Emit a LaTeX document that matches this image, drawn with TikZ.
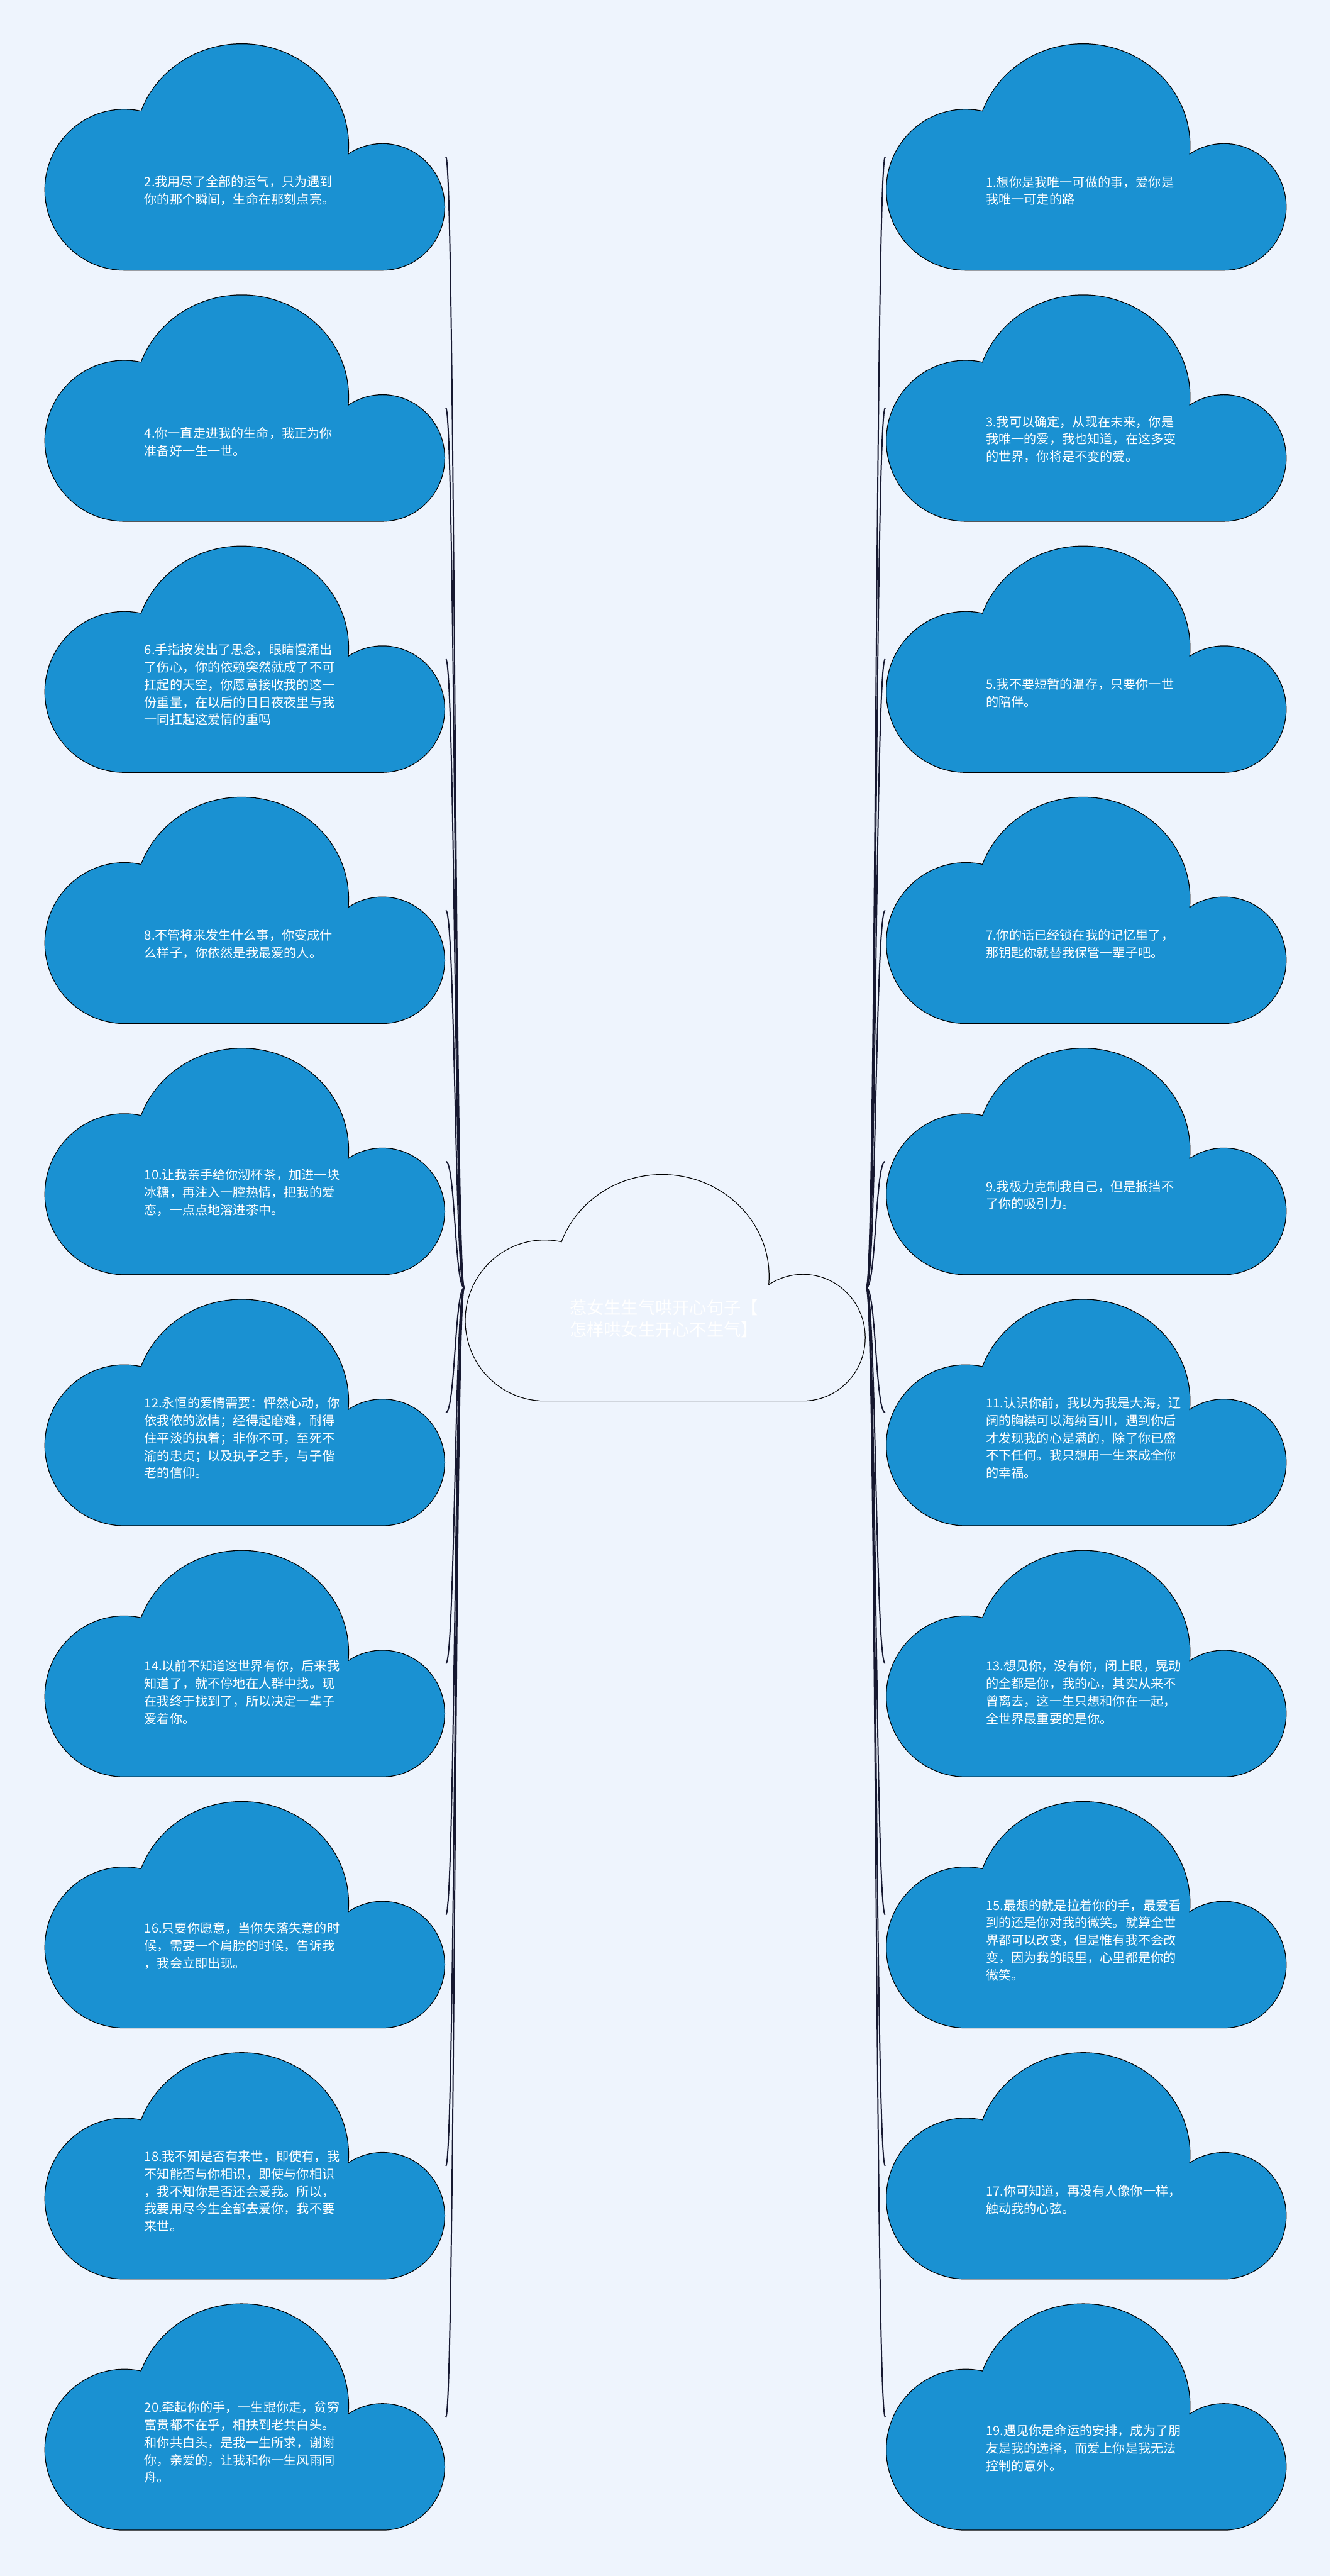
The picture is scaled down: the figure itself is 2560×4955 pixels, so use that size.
\documentclass[tikz,border=0pt]{standalone}
\usepackage{fontspec}
\newfontfamily\cjk{Noto Sans CJK SC}
\usepackage{tikz}
\definecolor{pagebg}{RGB}{238,244,253}
\definecolor{cloudblue}{RGB}{26,145,210}
\definecolor{linkdark}{RGB}{22,24,48}

\begin{document}
\begin{tikzpicture}[x=0.25pt,y=-0.25pt,node distance=120.75pt]
	\tikzset{
		cloudpath/.style={insert path={(-232,-63) ellipse [x radius=152,y radius=154]
			(-6,22) ellipse [x radius=205,y radius=195]
			(265,-96) ellipse [x radius=119,y radius=121]
			(265,-217) rectangle (-232,-19)}},
		cloud/.style={minimum width=193pt,minimum height=109.5pt,inner sep=0pt,
			path picture={\begin{scope}[x=0.25pt,y=0.25pt]
				\draw[line width=0.75pt,black,cloudpath];
				\fill[#1,cloudpath];
			\end{scope}}},
		note/.style={anchor=west,inner sep=0pt,align=left,text=white,
			font=\cjk\fontsize{6.1pt}{8.4pt}\selectfont},
		link/.style={draw=linkdark,line width=0.6pt,
			to path={.. controls +(#1,0) and +(-#1,0) .. (\tikztotarget)}}
	}
	\fill[pagebg] (0,0) rectangle (2560,4955);
	\useasboundingbox (0,0) rectangle (2560,4955);

	\node[cloud=pagebg] (hub) at (1280,2477) {};

	\node[cloud=cloudblue] (l2) at (471,302) {};
	\node[cloud=cloudblue] (l4) [below of=l2] {};
	\node[cloud=cloudblue] (l6) [below of=l4] {};
	\node[cloud=cloudblue] (l8) [below of=l6] {};
	\node[cloud=cloudblue] (l10) [below of=l8] {};
	\node[cloud=cloudblue] (l12) [below of=l10] {};
	\node[cloud=cloudblue] (l14) [below of=l12] {};
	\node[cloud=cloudblue] (l16) [below of=l14] {};
	\node[cloud=cloudblue] (l18) [below of=l16] {};
	\node[cloud=cloudblue] (l20) [below of=l18] {};

	\node[cloud=cloudblue] (r1) at (2090,302) {};
	\node[cloud=cloudblue] (r3) [below of=r1] {};
	\node[cloud=cloudblue] (r5) [below of=r3] {};
	\node[cloud=cloudblue] (r7) [below of=r5] {};
	\node[cloud=cloudblue] (r9) [below of=r7] {};
	\node[cloud=cloudblue] (r11) [below of=r9] {};
	\node[cloud=cloudblue] (r13) [below of=r11] {};
	\node[cloud=cloudblue] (r15) [below of=r13] {};
	\node[cloud=cloudblue] (r17) [below of=r15] {};
	\node[cloud=cloudblue] (r19) [below of=r17] {};

	% texts
	\node[note,font=\cjk\fontsize{8.25pt}{10.75pt}\selectfont] (t0) at ([shift={(202,59)}]hub.west)
		{惹女生生气哄开心句子【\\怎样哄女生开心不生气】};
	\node[note] (t2) at ([shift={(193,65)}]l2.west) {2.我用尽了全部的运气，只为遇到\\你的那个瞬间，生命在那刻点亮。};
	\node[note] (t4) at ([shift={(193,65)}]l4.west) {4.你一直走进我的生命，我正为你\\准备好一生一世。};
	\node[note] (t6) at ([shift={(193,49)}]l6.west) {6.手指按发出了思念，眼睛慢涌出\\了伤心，你的依赖突然就成了不可\\扛起的天空，你愿意接收我的这一\\份重量，在以后的日日夜夜里与我\\一同扛起这爱情的重吗};
	\node[note] (t8) at ([shift={(193,65)}]l8.west) {8.不管将来发生什么事，你变成什\\么样子，你依然是我最爱的人。};
	\node[note] (t10) at ([shift={(193,60)}]l10.west) {10.让我亲手给你沏杯茶，加进一块\\冰糖，再注入一腔热情，把我的爱\\恋，一点点地溶进茶中。};
	\node[note] (t12) at ([shift={(193,49)}]l12.west) {12.永恒的爱情需要：怦然心动，你\\依我侬的激情；经得起磨难，耐得\\住平淡的执着；非你不可，至死不\\渝的忠贞；以及执子之手，与子偕\\老的信仰。};
	\node[note] (t14) at ([shift={(193,55)}]l14.west) {14.以前不知道这世界有你，后来我\\知道了，就不停地在人群中找。现\\在我终于找到了，所以决定一辈子\\爱着你。};
	\node[note] (t16) at ([shift={(193,60)}]l16.west) {16.只要你愿意，当你失落失意的时\\候，需要一个肩膀的时候，告诉我\\，我会立即出现。};
	\node[note] (t18) at ([shift={(193,49)}]l18.west) {18.我不知是否有来世，即使有，我\\不知能否与你相识，即使与你相识\\，我不知你是否还会爱我。所以，\\我要用尽今生全部去爱你，我不要\\来世。};
	\node[note] (t20) at ([shift={(193,49)}]l20.west) {20.牵起你的手，一生跟你走，贫穷\\富贵都不在乎，相扶到老共白头。\\和你共白头，是我一生所求，谢谢\\你，亲爱的，让我和你一生风雨同\\舟。};

	\node[note] (t1) at ([shift={(193,65)}]r1.west) {1.想你是我唯一可做的事，爱你是\\我唯一可走的路};
	\node[note] (t3) at ([shift={(193,60)}]r3.west) {3.我可以确定，从现在未来，你是\\我唯一的爱，我也知道，在这多变\\的世界，你将是不变的爱。};
	\node[note] (t5) at ([shift={(193,65)}]r5.west) {5.我不要短暂的温存，只要你一世\\的陪伴。};
	\node[note] (t7) at ([shift={(193,65)}]r7.west) {7.你的话已经锁在我的记忆里了，\\那钥匙你就替我保管一辈子吧。};
	\node[note] (t9) at ([shift={(193,65)}]r9.west) {9.我极力克制我自己，但是抵挡不\\了你的吸引力。};
	\node[note] (t11) at ([shift={(193,49)}]r11.west) {11.认识你前，我以为我是大海，辽\\阔的胸襟可以海纳百川，遇到你后\\才发现我的心是满的，除了你已盛\\不下任何。我只想用一生来成全你\\的幸福。};
	\node[note] (t13) at ([shift={(193,55)}]r13.west) {13.想见你，没有你，闭上眼，晃动\\的全都是你，我的心，其实从来不\\曾离去，这一生只想和你在一起，\\全世界最重要的是你。};
	\node[note] (t15) at ([shift={(193,49)}]r15.west) {15.最想的就是拉着你的手，最爱看\\到的还是你对我的微笑。就算全世\\界都可以改变，但是惟有我不会改\\变，因为我的眼里，心里都是你的\\微笑。};
	\node[note] (t17) at ([shift={(193,65)}]r17.west) {17.你可知道，再没有人像你一样，\\触动我的心弦。};
	\node[note] (t19) at ([shift={(193,60)}]r19.west) {19.遇见你是命运的安排，成为了朋\\友是我的选择，而爱上你是我无法\\控制的意外。};

	% connectors
	\path (hub.west) edge[link=-18] (l2.east)
		edge[link=-18] (l4.east)
		edge[link=-18] (l6.east)
		edge[link=-18] (l8.east)
		edge[link=-18] (l10.east)
		edge[link=-18] (l12.east)
		edge[link=-18] (l14.east)
		edge[link=-18] (l16.east)
		edge[link=-18] (l18.east)
		edge[link=-18] (l20.east);
	\path (hub.east) edge[link=19] (r1.west)
		edge[link=19] (r3.west)
		edge[link=19] (r5.west)
		edge[link=19] (r7.west)
		edge[link=19] (r9.west)
		edge[link=19] (r11.west)
		edge[link=19] (r13.west)
		edge[link=19] (r15.west)
		edge[link=19] (r17.west)
		edge[link=19] (r19.west);
\end{tikzpicture}
\end{document}
